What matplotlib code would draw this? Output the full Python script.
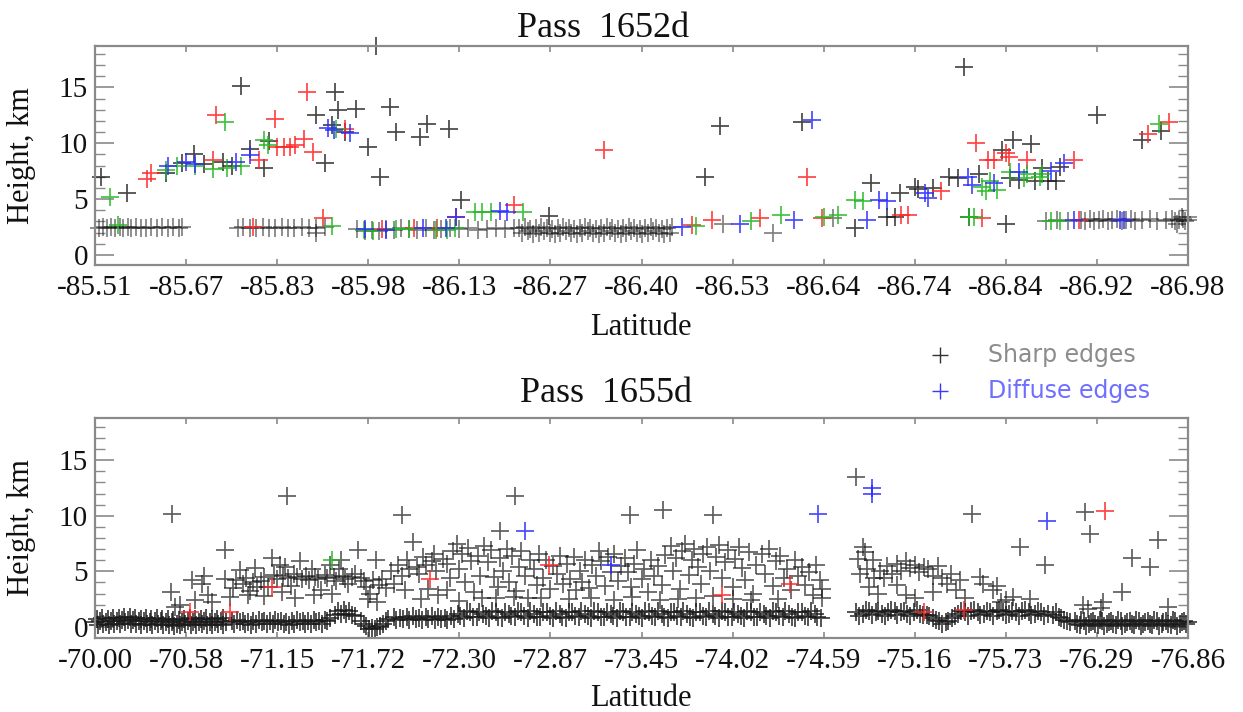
import matplotlib
matplotlib.use("Agg")
import matplotlib.pyplot as plt
from matplotlib.lines import Line2D

# ---------------- data ----------------
# x positions are along-track tick index (0..12); tick labels give latitude
top_lat_labels = ['-85.51', '-85.67', '-85.83', '-85.98', '-86.13', '-86.27', '-86.40',
                  '-86.53', '-86.64', '-86.74', '-86.84', '-86.92', '-86.98']
bot_lat_labels = ['-70.00', '-70.58', '-71.15', '-71.72', '-72.30', '-72.87', '-73.45',
                  '-74.02', '-74.59', '-75.16', '-75.73', '-76.29', '-76.86']
height_ticks = [0, 5, 10, 15]

# ---- Pass 1652d ----
top_band = [
    (0.04, 2.4), (0.09, 2.5), (0.13, 2.4), (0.18, 2.5), (0.22, 2.4), (0.27, 2.5), (0.31, 2.4),
    (0.36, 2.5), (0.40, 2.4), (0.45, 2.5), (0.50, 2.4), (0.56, 2.4), (0.62, 2.5), (0.68, 2.4),
    (0.74, 2.5), (0.80, 2.4), (0.86, 2.5), (0.92, 2.4), (0.96, 2.5),
    (1.57, 2.4), (1.63, 2.5), (1.70, 2.4), (1.77, 2.4), (1.84, 2.5), (1.91, 2.4), (1.98, 2.4),
    (2.05, 2.5), (2.12, 2.4), (2.19, 2.4), (2.27, 2.5), (2.35, 2.4), (2.43, 2.4), (2.52, 2.5),
    (2.43, 2.0),
    (2.88, 2.3), (2.96, 2.1), (3.04, 2.2), (3.12, 2.1), (3.20, 2.3), (3.28, 2.2), (3.36, 2.4),
    (3.45, 2.3), (3.54, 2.2), (3.63, 2.4), (3.72, 2.2), (3.80, 2.3), (3.90, 2.4), (4.00, 2.3),
    (4.10, 2.4), (4.20, 2.2), (4.30, 2.3), (4.40, 2.4), (4.50, 2.3), (4.60, 2.4),
    (4.66, 2.4), (4.72, 2.5), (4.78, 2.3), (4.84, 2.4), (4.90, 2.5), (4.96, 2.4), (5.02, 2.3),
    (5.08, 2.4), (5.14, 2.5), (5.20, 2.4), (5.26, 2.3), (5.32, 2.4), (5.38, 2.5), (5.44, 2.4),
    (5.50, 2.3), (5.56, 2.4), (5.62, 2.5), (5.68, 2.4), (5.74, 2.3), (5.80, 2.4), (5.86, 2.5),
    (5.92, 2.4), (5.98, 2.3), (6.04, 2.4), (6.10, 2.5), (6.16, 2.4), (6.22, 2.3), (6.28, 2.4),
    (6.34, 2.5),
    (4.69, 2.0), (4.75, 2.1), (4.81, 1.9), (4.87, 2.0), (4.93, 2.1), (4.99, 2.0), (5.05, 1.9),
    (5.11, 2.0), (5.17, 2.1), (5.23, 2.0), (5.29, 1.9), (5.35, 2.0), (5.41, 2.1), (5.47, 2.0),
    (5.53, 1.9), (5.59, 2.0), (5.65, 2.1), (5.71, 2.0), (5.77, 1.9), (5.83, 2.0), (5.89, 2.1),
    (5.95, 2.0), (6.01, 1.9), (6.07, 2.0), (6.13, 2.1), (6.19, 2.0), (6.25, 1.9), (6.31, 2.0),
    (6.9, 2.8), (7.44, 2.0), (8.1, 3.3),
    (10.44, 3.0), (10.56, 3.1), (10.68, 3.0), (10.82, 3.1), (10.87, 3.0), (10.92, 3.2),
    (10.97, 3.0), (11.02, 3.1), (11.07, 3.2), (11.12, 3.0), (11.17, 3.1), (11.22, 3.2),
    (11.27, 3.0), (11.32, 3.1), (11.37, 3.2), (11.42, 3.0), (11.50, 3.1), (11.58, 3.2),
    (11.66, 3.0), (11.76, 3.1), (11.82, 3.2), (11.86, 3.0), (11.90, 3.1), (11.94, 3.2),
    (11.97, 3.0), (12.00, 3.1), (12.00, 3.4), (11.93, 3.4), (11.88, 2.8),
]
top_black = [
    (0.07, 7.0), (0.35, 5.5), (0.78, 7.3), (0.95, 8.2), (1.09, 9.0), (1.2, 8.1), (1.4, 8.3),
    (1.5, 8.0), (1.6, 15.1), (1.7, 9.5), (1.85, 7.8), (1.91, 10.2), (2.43, 12.5), (2.52, 8.2),
    (2.6, 11.6), (2.63, 14.6), (2.67, 13.0), (2.75, 11.0), (2.87, 13.1), (3.0, 9.7),
    (3.09, 18.7), (3.13, 7.0), (3.24, 13.2), (3.3, 11.0), (3.57, 10.6), (3.65, 11.7),
    (3.89, 11.3), (4.02, 4.9), (4.98, 3.5),
    (6.7, 7.0), (6.86, 11.5), (7.76, 11.9), (8.34, 2.4), (8.52, 6.4), (8.7, 3.4), (8.78, 3.4),
    (8.84, 5.5), (9.0, 6.1), (9.04, 5.9), (9.2, 6.0), (9.38, 7.0), (9.47, 6.9), (9.54, 16.8),
    (9.6, 3.4), (9.7, 7.2), (9.96, 9.4), (10.0, 2.8), (10.05, 6.9), (10.08, 10.3),
    (10.14, 6.7), (10.28, 9.9), (10.32, 6.6), (10.4, 7.8), (10.46, 6.6), (10.55, 6.6),
    (10.6, 7.9), (11.0, 12.5), (11.5, 10.3), (11.7, 11.1),
]
top_red = [
    (0.57, 6.8), (0.62, 7.3), (1.3, 8.5), (1.33, 12.5), (1.74, 2.5), (1.8, 8.5), (1.98, 12.2),
    (2.0, 9.7), (2.07, 9.7), (2.14, 9.7), (2.2, 9.8), (2.3, 10.4), (2.33, 14.6), (2.39, 9.2),
    (2.5, 3.3), (2.74, 11.3), (3.15, 2.3), (3.5, 2.4), (3.75, 2.4), (3.96, 3.4), (4.6, 4.5),
    (5.59, 9.4),
    (6.55, 2.7), (6.77, 3.1), (7.3, 3.3), (7.82, 7.0), (7.98, 3.3), (8.85, 3.6), (8.93, 3.6),
    (9.29, 5.7), (9.67, 10.0), (9.74, 3.3), (9.8, 8.5), (9.87, 8.5), (10.0, 9.1), (10.03, 8.8),
    (10.23, 8.5), (10.75, 8.5), (10.8, 3.1), (11.56, 10.8), (11.79, 11.9),
]
top_green = [
    (0.17, 5.2), (0.25, 2.7), (0.78, 7.6), (0.9, 8.0), (1.1, 8.0), (1.3, 7.7), (1.43, 11.9),
    (1.45, 7.8), (1.6, 8.0), (1.85, 10.3), (1.9, 9.8), (2.6, 2.6), (2.65, 11.3), (2.95, 2.2),
    (3.05, 2.1), (3.3, 2.3), (3.45, 2.3), (3.74, 2.2), (3.87, 2.2), (3.95, 2.4), (4.17, 3.8),
    (4.25, 3.8), (4.35, 3.8), (4.7, 3.8),
    (6.6, 2.6), (7.2, 3.0), (7.53, 3.6), (8.0, 3.4), (8.16, 3.6), (8.34, 4.9), (8.43, 4.8),
    (9.6, 3.4), (9.65, 3.4), (9.74, 6.1), (9.78, 5.7), (9.83, 6.6), (9.9, 5.8), (10.05, 7.4),
    (10.2, 6.9), (10.23, 7.2), (10.37, 7.0), (10.4, 7.2), (10.5, 3.0), (10.6, 3.0),
    (11.68, 11.7),
]
top_blue = [
    (0.8, 8.0), (1.0, 8.3), (1.1, 8.1), (1.55, 8.3), (1.7, 8.9), (2.56, 11.4), (2.62, 11.2),
    (2.8, 10.9), (2.96, 2.3), (3.2, 2.2), (3.6, 2.4), (3.85, 2.4), (3.96, 3.4), (4.45, 3.9),
    (4.52, 3.8),
    (6.45, 2.5), (7.08, 2.8), (7.67, 3.1), (7.87, 12.1), (8.48, 3.1), (8.61, 4.9), (8.7, 4.8),
    (9.11, 5.5), (9.15, 5.1), (9.58, 7.0), (9.63, 6.3), (9.87, 6.4), (10.14, 7.4), (10.5, 7.5),
    (10.64, 8.2), (10.75, 3.1), (11.25, 3.1), (11.3, 3.1),
]

# ---- Pass 1655d ----
bot_base = [
    (0.00, 0.4), (0.06, 0.5), (0.12, 0.4), (0.18, 0.5), (0.24, 0.5), (0.30, 0.6), (0.36, 0.6),
    (0.42, 0.6), (0.48, 0.5), (0.54, 0.5), (0.60, 0.4), (0.66, 0.5), (0.72, 0.5), (0.78, 0.4),
    (0.84, 0.4), (0.90, 0.3), (0.96, 0.4), (1.02, 0.5), (1.08, 0.4), (1.14, 0.4), (1.20, 0.5),
    (1.26, 0.4), (1.32, 0.4), (1.38, 0.5), (1.44, 0.4),
    (0.03, 0.2), (0.09, 0.3), (0.15, 0.2), (0.21, 0.3), (0.27, 0.3), (0.33, 0.4), (0.39, 0.3),
    (0.45, 0.3), (0.51, 0.2), (0.57, 0.3), (0.63, 0.2), (0.69, 0.3), (0.75, 0.2), (0.81, 0.2),
    (0.87, 0.1), (0.93, 0.2), (0.99, 0.3), (1.05, 0.2), (1.11, 0.2), (1.17, 0.3), (1.23, 0.2),
    (1.29, 0.2), (1.35, 0.3), (1.41, 0.2),
    (0.02, 0.7), (0.08, 0.8), (0.14, 0.7), (0.20, 0.8), (0.26, 0.8), (0.32, 0.9), (0.38, 0.9),
    (0.44, 0.8), (0.50, 0.7), (0.56, 0.8), (0.62, 0.7), (0.68, 0.8), (0.74, 0.7), (0.80, 0.7),
    (0.86, 0.6), (0.92, 0.6), (0.98, 0.7), (1.04, 0.8), (1.10, 0.7), (1.16, 0.7), (1.22, 0.8),
    (1.28, 0.7), (1.34, 0.7), (1.40, 0.8),
    (1.50, 0.5), (1.56, 0.6), (1.62, 0.5), (1.68, 0.4), (1.74, 0.5), (1.80, 0.6), (1.86, 0.5),
    (1.92, 0.5), (1.98, 0.6), (2.04, 0.5), (2.10, 0.4), (2.16, 0.5), (2.22, 0.6), (2.28, 0.5),
    (2.34, 0.5), (2.40, 0.6), (2.46, 0.5), (2.52, 0.6), (2.58, 0.8),
    (1.53, 0.3), (1.59, 0.4), (1.65, 0.3), (1.71, 0.2), (1.77, 0.3), (1.83, 0.4), (1.89, 0.3),
    (1.95, 0.3), (2.01, 0.4), (2.07, 0.3), (2.13, 0.2), (2.19, 0.3), (2.25, 0.4), (2.31, 0.3),
    (2.37, 0.3), (2.43, 0.4), (2.49, 0.3), (2.55, 0.5),
    (2.64, 1.1), (2.70, 1.2), (2.76, 1.2), (2.82, 1.1), (2.86, 1.0),
    (2.67, 1.4), (2.73, 1.5), (2.79, 1.4),
    (2.92, 0.5), (2.98, 0.1), (3.04, -0.1), (3.10, 0.0), (3.16, 0.3), (3.22, 0.7),
    (2.95, 0.3), (3.01, -0.2), (3.07, -0.2), (3.13, 0.1), (3.19, 0.5),
    (3.28, 0.9), (3.35, 0.8), (3.42, 0.9), (3.49, 1.0), (3.56, 0.8), (3.63, 0.9), (3.70, 1.0),
    (3.77, 0.9), (3.84, 0.8), (3.91, 1.0),
    (3.98, 1.2), (4.05, 0.8), (4.12, 1.3), (4.19, 0.9), (4.26, 1.2), (4.33, 0.8), (4.40, 1.3),
    (4.47, 0.8), (4.54, 1.2), (4.61, 0.9),
    (4.68, 1.3), (4.75, 0.8), (4.82, 1.2), (4.89, 0.9), (4.96, 1.3), (5.03, 0.8), (5.10, 1.2),
    (5.17, 0.8), (5.24, 1.3), (5.31, 0.9),
    (5.38, 1.2), (5.45, 0.8), (5.52, 1.3), (5.59, 0.9), (5.66, 1.2), (5.73, 0.8), (5.80, 1.3),
    (5.87, 0.9), (5.94, 1.2), (6.01, 0.8),
    (6.08, 1.3), (6.15, 0.9), (6.22, 1.2), (6.29, 0.8), (6.36, 1.3), (6.43, 0.9), (6.50, 1.2),
    (6.57, 0.8), (6.64, 1.3), (6.71, 0.9),
    (6.78, 1.2), (6.85, 0.8), (6.92, 1.3), (6.99, 0.9), (7.06, 1.2), (7.13, 0.8), (7.20, 1.3),
    (7.27, 0.9), (7.34, 1.2), (7.41, 0.8),
    (7.48, 1.3), (7.55, 0.9), (7.62, 1.2), (7.69, 0.8), (7.76, 1.3), (7.83, 0.9), (7.90, 1.2),
    (7.97, 0.8),
    (3.31, 0.6), (3.38, 0.7), (3.45, 0.6), (3.52, 0.7), (3.59, 0.6), (3.66, 0.7), (3.73, 0.6),
    (3.80, 0.7), (3.87, 0.6), (3.94, 0.7),
    (4.01, 1.0), (4.08, 1.4), (4.15, 0.9), (4.22, 1.3), (4.29, 1.0), (4.36, 1.4), (4.43, 0.9),
    (4.50, 1.3), (4.57, 1.0), (4.64, 1.4),
    (4.71, 1.0), (4.78, 1.4), (4.85, 0.9), (4.92, 1.3), (4.99, 1.0), (5.06, 1.4), (5.13, 0.9),
    (5.20, 1.3), (5.27, 1.0), (5.34, 1.4),
    (5.41, 1.0), (5.48, 1.4), (5.55, 0.9), (5.62, 1.3), (5.69, 1.0), (5.76, 1.4), (5.83, 0.9),
    (5.90, 1.3), (5.97, 1.0), (6.04, 1.4),
    (6.11, 1.0), (6.18, 1.4), (6.25, 0.9), (6.32, 1.3), (6.39, 1.0), (6.46, 1.4), (6.53, 0.9),
    (6.60, 1.3), (6.67, 1.0), (6.74, 1.4),
    (6.81, 1.0), (6.88, 1.4), (6.95, 0.9), (7.02, 1.3), (7.09, 1.0), (7.16, 1.4), (7.23, 0.9),
    (7.30, 1.3), (7.37, 1.0), (7.44, 1.4),
    (7.51, 1.0), (7.58, 1.4), (7.65, 0.9), (7.72, 1.3), (7.79, 1.0), (7.86, 1.4), (7.93, 0.9),
    (8.36, 1.3), (8.43, 1.2), (8.50, 1.4), (8.57, 1.3), (8.64, 1.2), (8.71, 1.3), (8.78, 1.4),
    (8.85, 1.3), (8.92, 1.2), (8.99, 1.3), (9.06, 1.2), (9.13, 1.1), (9.20, 0.8), (9.27, 0.5),
    (9.34, 0.4), (9.41, 0.8), (9.48, 1.2), (9.55, 1.3), (9.62, 1.4), (9.69, 1.3), (9.76, 1.2),
    (9.83, 1.3), (9.90, 1.4), (9.97, 1.3), (10.04, 1.2), (10.11, 1.3), (10.18, 1.4),
    (10.25, 1.3), (10.32, 1.2), (10.39, 1.3), (10.46, 1.2),
    (8.39, 1.0), (8.46, 1.5), (8.53, 1.1), (8.60, 1.4), (8.67, 1.0), (8.74, 1.5), (8.81, 1.1),
    (8.88, 1.4), (8.95, 1.0), (9.02, 1.5), (9.09, 1.1), (9.16, 1.0), (9.23, 0.6), (9.30, 0.3),
    (9.37, 0.5), (9.44, 1.0), (9.51, 1.4), (9.58, 1.0), (9.65, 1.5), (9.72, 1.1), (9.79, 1.4),
    (9.86, 1.0), (9.93, 1.5), (10.00, 1.1), (10.07, 1.4), (10.14, 1.0), (10.21, 1.5),
    (10.28, 1.1), (10.35, 1.4), (10.42, 1.0),
    (10.52, 1.1), (10.58, 0.9), (10.64, 0.6), (10.70, 0.45), (10.55, 1.3), (10.61, 0.8),
    (10.67, 0.5),
    (10.76, 0.5), (10.81, 0.2), (10.86, 0.5), (10.91, 0.3), (10.96, 0.5), (11.01, 0.2),
    (11.06, 0.5), (11.11, 0.3), (11.16, 0.5), (11.21, 0.2), (11.26, 0.5), (11.31, 0.3),
    (11.36, 0.5), (11.41, 0.2), (11.46, 0.5), (11.51, 0.3), (11.56, 0.5), (11.61, 0.2),
    (11.66, 0.5), (11.71, 0.3), (11.76, 0.5), (11.81, 0.2), (11.86, 0.5), (11.91, 0.3),
    (11.96, 0.5), (12.00, 0.4),
    (10.78, 0.3), (10.83, 0.6), (10.88, 0.1), (10.93, 0.4), (10.98, 0.3), (11.03, 0.6),
    (11.08, 0.1), (11.13, 0.4), (11.18, 0.3), (11.23, 0.6), (11.28, 0.1), (11.33, 0.4),
    (11.38, 0.3), (11.43, 0.6), (11.48, 0.1), (11.53, 0.4), (11.58, 0.3), (11.63, 0.6),
    (11.68, 0.1), (11.73, 0.4), (11.78, 0.3), (11.83, 0.6), (11.88, 0.1), (11.93, 0.4),
    (11.98, 0.3),
]
bot_black = [
    (0.84, 10.2), (2.11, 11.8), (3.37, 10.1), (4.61, 11.8), (4.45, 8.65), (5.87, 10.05),
    (6.24, 10.5), (6.79, 10.1), (8.36, 13.5), (9.63, 10.2), (10.87, 10.3), (10.92, 8.4),
    (11.67, 7.8), (11.38, 6.2), (11.58, 5.4), (11.27, 3.15), (10.16, 7.2), (10.43, 5.55),
    (10.85, 1.95), (11.07, 2.25), (11.78, 1.8), (10.9, 1.6), (11.05, 1.7),
    (0.83, 3.15), (0.88, 1.8), (0.93, 2.0), (1.06, 4.2), (1.1, 2.4), (1.17, 3.9), (1.24, 2.85),
    (1.2, 4.6), (1.28, 2.2),
    (1.43, 6.9), (1.43, 4.35), (1.48, 2.7), (1.52, 3.5), (1.59, 5.1), (1.62, 3.9), (1.66, 4.4),
    (1.7, 3.2), (1.73, 4.0), (1.76, 5.3), (1.78, 3.6), (1.55, 4.2), (1.68, 2.9),
    (1.82, 4.1), (1.86, 4.5), (1.9, 3.6), (1.94, 6.2), (1.97, 4.7), (2.0, 4.3), (2.03, 5.6),
    (2.06, 4.6), (2.09, 5.4), (2.12, 4.4), (2.15, 3.7), (2.18, 4.8), (2.22, 4.5), (2.25, 5.9),
    (2.27, 4.3), (1.85, 2.8), (2.05, 3.1), (2.2, 2.6),
    (2.32, 4.6), (2.35, 4.2), (2.38, 5.2), (2.42, 4.5), (2.45, 4.3), (2.48, 3.3), (2.52, 4.7),
    (2.55, 4.4), (2.58, 5.6), (2.62, 4.5), (2.65, 4.1), (2.68, 5.2), (2.72, 4.6), (2.75, 4.3),
    (2.78, 3.9), (2.4, 2.9), (2.6, 3.0), (2.7, 6.0),
    (2.82, 4.5), (2.85, 4.8), (2.89, 6.9), (2.92, 4.4), (2.95, 4.1), (2.98, 3.6), (3.02, 3.0),
    (3.05, 4.2), (3.09, 6.0), (3.12, 3.8), (3.15, 4.3), (3.2, 3.5), (3.25, 5.0), (3.28, 3.9),
    (3.0, 2.5), (3.1, 2.2),
    (3.33, 5.6), (3.37, 4.6), (3.42, 6.0), (3.45, 5.2), (3.49, 7.65), (3.53, 5.4), (3.56, 4.8),
    (3.6, 6.3), (3.63, 5.6), (3.66, 3.4), (3.7, 5.9), (3.74, 5.0), (3.77, 2.9), (3.4, 3.3),
    (3.58, 2.5), (3.72, 6.6),
    (3.82, 6.1), (3.86, 5.7), (3.86, 3.3), (3.9, 4.4), (3.93, 6.8), (3.97, 7.5), (4.0, 5.2),
    (4.03, 6.6), (4.06, 4.0), (4.1, 7.1), (4.13, 5.9), (4.16, 3.1), (4.2, 6.4), (4.23, 4.6),
    (4.27, 7.3), (4.0, 2.3), (4.25, 2.6),
    (4.32, 5.8), (4.35, 6.9), (4.38, 4.5), (4.42, 3.6), (4.45, 6.2), (4.48, 5.0), (4.52, 7.0),
    (4.55, 4.0), (4.58, 6.4), (4.62, 3.2), (4.65, 5.4), (4.68, 6.8), (4.72, 4.6), (4.75, 2.6),
    (4.78, 6.0), (4.4, 2.6), (4.6, 2.7),
    (4.82, 5.2), (4.85, 3.8), (4.88, 6.6), (4.92, 4.4), (4.95, 6.0), (5.0, 3.4), (5.03, 5.5),
    (5.07, 4.8), (5.1, 6.4), (5.14, 3.9), (5.18, 5.7), (5.22, 4.3), (5.26, 6.3), (5.28, 3.3),
    (4.9, 2.6), (5.2, 2.5),
    (5.32, 5.0), (5.35, 4.0), (5.38, 6.0), (5.42, 3.5), (5.46, 5.6), (5.5, 4.6), (5.53, 6.8),
    (5.56, 5.9), (5.6, 3.7), (5.63, 6.3), (5.67, 4.9), (5.7, 6.6), (5.74, 4.1), (5.78, 5.5),
    (5.45, 2.6), (5.7, 2.4),
    (5.82, 6.2), (5.85, 4.9), (5.88, 3.6), (5.92, 5.7), (5.95, 6.9), (6.0, 4.3), (6.03, 5.2),
    (6.07, 3.1), (6.1, 6.0), (6.14, 4.6), (6.18, 5.5), (6.22, 3.8), (6.26, 6.5), (5.9, 2.7),
    (6.2, 2.4),
    (6.32, 7.3), (6.35, 5.0), (6.38, 6.2), (6.42, 3.4), (6.45, 6.8), (6.48, 7.5), (6.52, 4.7),
    (6.55, 6.0), (6.58, 7.0), (6.62, 5.4), (6.65, 3.9), (6.68, 6.6), (6.72, 7.2), (6.75, 5.0),
    (6.78, 2.8), (6.4, 2.5), (6.6, 2.6),
    (6.82, 6.3), (6.85, 7.4), (6.88, 4.4), (6.92, 5.8), (6.95, 6.9), (7.0, 3.6), (7.03, 6.1),
    (7.07, 7.2), (7.1, 5.3), (7.14, 4.2), (7.18, 6.7), (7.22, 3.0), (7.26, 5.6), (7.0, 2.5),
    (7.2, 2.4),
    (7.32, 6.6), (7.36, 4.8), (7.4, 7.0), (7.44, 3.7), (7.48, 5.9), (7.52, 6.4), (7.56, 4.4),
    (7.6, 5.2), (7.64, 3.3), (7.68, 6.0), (7.72, 4.6), (7.76, 5.4), (7.8, 3.8), (7.84, 4.9),
    (7.88, 2.9), (7.92, 5.6), (7.96, 4.2), (7.98, 3.4), (7.98, 2.6), (7.5, 2.5),
    (8.38, 6.1), (8.43, 7.2), (8.45, 6.75), (8.54, 6.0), (8.4, 4.8), (8.48, 5.2), (8.5, 3.6),
    (8.55, 4.4), (8.6, 3.0), (8.62, 5.0), (8.66, 4.4), (8.7, 5.5), (8.75, 4.8), (8.8, 5.7),
    (8.85, 5.0), (8.9, 5.9), (8.95, 5.3), (9.0, 5.6), (9.05, 4.9), (9.1, 5.4), (9.15, 5.2),
    (9.2, 4.6), (9.25, 5.5), (9.3, 4.4), (9.35, 3.9), (9.4, 4.8), (9.45, 3.3), (9.5, 4.2),
    (9.55, 2.6), (8.8, 3.8), (9.0, 2.6), (8.9, 2.9), (9.2, 3.1), (9.72, 4.5), (9.75, 3.9),
    (9.86, 3.3), (9.9, 3.7), (10.08, 2.7), (10.27, 2.55), (10.0, 2.4), (9.95, 2.2),
]
bot_red = [
    (1.04, 1.35), (1.48, 1.35), (1.94, 3.6), (3.68, 4.35), (4.98, 5.55), (6.88, 2.85),
    (7.63, 3.9), (9.1, 1.35), (9.54, 1.5), (11.09, 10.4),
]
bot_green = [(2.6, 6.0)]
bot_blue = [(4.72, 8.65), (5.67, 5.55), (7.94, 10.2), (8.53, 12.5), (8.53, 12.0), (10.45, 9.55)]

legend_labels = ['Sharp edges', 'Diffuse edges']

# ---------------- drawing ----------------
W, H = 1243, 712
fig = plt.figure(figsize=(W / 100, H / 100), dpi=100)
serif = ['Liberation Serif', 'DejaVu Serif']
C_K, C_R, C_G, C_B = '#1a1a1a', '#ff2424', '#22b822', '#2a2aff'

ax1 = fig.add_axes([95 / W, 1 - 265 / H, 1093 / W, 219 / H])
ax2 = fig.add_axes([95 / W, 1 - 638 / H, 1093 / W, 220 / H])


def pts(ax, data, color, alpha, mew=1.25):
    xs = [p[0] for p in data]
    ys = [p[1] for p in data]
    ax.plot(xs, ys, ls='none', marker='+', ms=13, mew=mew, color=color,
            alpha=alpha, clip_on=False)


def style(ax, labels, ylim):
    ax.set_xlim(0, 12)
    ax.set_ylim(*ylim)
    ax.set_xticks(range(len(labels)))
    ax.set_xticklabels(labels)
    ax.set_yticks(height_ticks)
    ax.set_yticks(range(0, 19), minor=True)
    ax.tick_params(axis='both', which='both', direction='in', top=True, right=True,
                   color='#8a8a8a', labelcolor='#111111')
    ax.tick_params(axis='y', which='major', length=14, width=1.2, pad=5, labelsize=21)
    ax.tick_params(axis='y', which='minor', length=7, width=1.0)
    ax.tick_params(axis='x', which='major', length=4, width=1.2, pad=7, labelsize=21)
    for lab in ax.get_xticklabels() + ax.get_yticklabels():
        lab.set_fontfamily(serif)
    for s in ax.spines.values():
        s.set_color('#8a8a8a')
        s.set_linewidth(1.6)


pts(ax1, top_band, C_K, 0.55)
pts(ax1, top_black, C_K, 0.8)
pts(ax1, top_red, C_R, 0.85)
pts(ax1, top_green, C_G, 0.85)
pts(ax1, top_blue, C_B, 0.85)
style(ax1, top_lat_labels, (-0.9, 18.7))

pts(ax2, bot_base, C_K, 0.75, mew=1.4)
pts(ax2, bot_black, C_K, 0.7)
pts(ax2, bot_red, C_R, 0.85)
pts(ax2, bot_green, C_G, 0.85)
pts(ax2, bot_blue, C_B, 0.85)
style(ax2, bot_lat_labels, (-1.0, 18.8))

# titles and axis labels
fig.text(603.5 / W, 1 - 37 / H, 'Pass  1652d', ha='center', va='baseline',
         fontsize=26, family=serif, color='#111111')
fig.text(606 / W, 1 - 402 / H, 'Pass  1655d', ha='center', va='baseline',
         fontsize=26, family=serif, color='#111111')
fig.text(641 / W, 1 - 335 / H, 'Latitude', ha='center', va='baseline',
         fontsize=22, family=serif, color='#111111')
fig.text(641 / W, 1 - 706 / H, 'Latitude', ha='center', va='baseline',
         fontsize=22, family=serif, color='#111111')
fig.text(22 / W, 1 - 155.5 / H, 'Height, km', rotation=90, ha='center', va='center',
         fontsize=22, family=serif, color='#111111')
fig.text(22 / W, 1 - 528 / H, 'Height, km', rotation=90, ha='center', va='center',
         fontsize=22, family=serif, color='#111111')

# legend
fig.add_artist(Line2D([940 / W], [1 - 355 / H], marker='+', ms=11, mew=1.0, color='#333333',
                      ls='none', transform=fig.transFigure))
fig.add_artist(Line2D([940 / W], [1 - 391 / H], marker='+', ms=11, mew=1.0, color='#3a3aff',
                      ls='none', transform=fig.transFigure))
fig.text(988 / W, 1 - 355 / H, legend_labels[0], ha='left', va='center', fontsize=17,
         family=['DejaVu Sans'], color='#8c8c8c')
fig.text(988 / W, 1 - 391 / H, legend_labels[1], ha='left', va='center', fontsize=17,
         family=['DejaVu Sans'], color='#6f6fff')

fig.savefig('out.png', dpi=100)
